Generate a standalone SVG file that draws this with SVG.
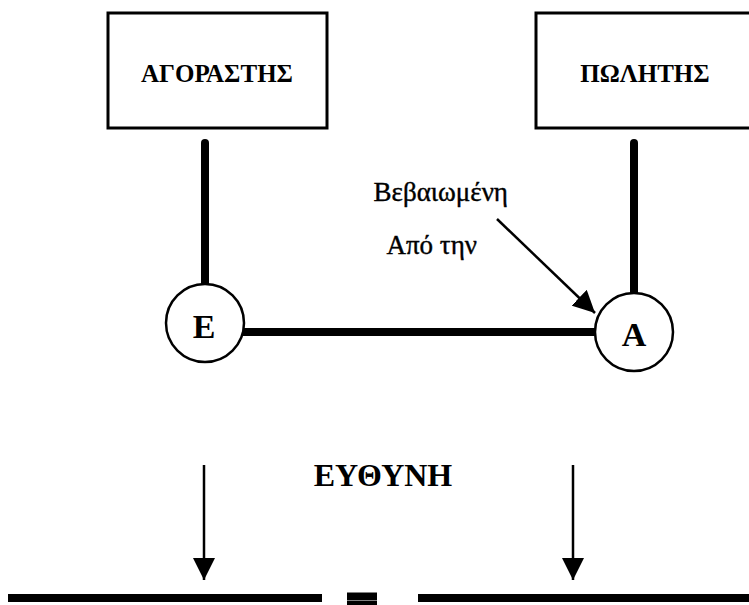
<svg xmlns="http://www.w3.org/2000/svg" width="749" height="605" viewBox="0 0 749 605">
<style>
.box{fill:#fff;stroke:#000;stroke-width:3}
.circ{fill:#fff;stroke:#000;stroke-width:2.5}
.thick{stroke:#000;stroke-width:8;fill:none}
.thin{stroke:#000;stroke-width:2.5;fill:none}
.lbl{font-family:"Liberation Serif","DejaVu Serif",serif;font-weight:bold;fill:#000;text-anchor:middle}
.ann{font-family:"Liberation Serif","DejaVu Serif",serif;fill:#000;text-anchor:end;font-size:27px;stroke:#000;stroke-width:0.4}
</style>
<defs>
<marker id="ah" viewBox="0 0 22 22" refX="22" refY="11" markerWidth="22" markerHeight="22" orient="auto" markerUnits="userSpaceOnUse">
<path d="M0,0 L22,11 L0,22 z" fill="#000"/>
</marker>
</defs>
<rect width="749" height="605" fill="#fff"/>
<g id="connectors">
<line class="thick" x1="205" y1="143" x2="205" y2="285" stroke-linecap="round"/>
<line class="thick" x1="634" y1="143" x2="634" y2="293" stroke-linecap="round"/>
<line class="thick" x1="243" y1="332" x2="596" y2="332"/>
<line class="thin" x1="497" y1="219" x2="595" y2="313" stroke-width="3" marker-end="url(#ah)"/>
<line class="thin" x1="204" y1="465" x2="204" y2="580" marker-end="url(#ah)"/>
<line class="thin" x1="573" y1="465" x2="573" y2="580" marker-end="url(#ah)"/>
</g>
<g id="buyer">
<rect class="box" x="108" y="13" width="219" height="115"/>
<text class="lbl" x="217" y="82" font-size="25">ΑΓΟΡΑΣΤΗΣ</text>
</g>
<g id="seller">
<rect class="box" x="536" y="13" width="230" height="115"/>
<text class="lbl" x="645" y="82" font-size="25">ΠΩΛΗΤΗΣ</text>
</g>
<g id="nodeE">
<circle class="circ" cx="205" cy="323" r="39"/>
<text class="lbl" x="204" y="338" font-size="34">E</text>
</g>
<g id="nodeA">
<circle class="circ" cx="634" cy="332" r="39"/>
<text class="lbl" x="634" y="346" font-size="34">A</text>
</g>
<g id="annotation">
<text class="ann" x="508" y="201">Βεβαιωμένη</text>
<text class="ann" x="477" y="254">Από την</text>
</g>
<g id="responsibility">
<text class="lbl" x="383" y="486" font-size="32">ΕΥΘΥΝΗ</text>
</g>
<g id="balance">
<line class="thick" x1="8" y1="598" x2="322" y2="598" stroke-width="9"/>
<line class="thick" x1="418" y1="598" x2="749" y2="598" stroke-width="9"/>
<line class="thick" x1="347" y1="596.5" x2="377" y2="596.5" stroke-width="3"/>
<line class="thick" x1="347" y1="605" x2="377" y2="605" stroke-width="3"/>
</g>
</svg>
